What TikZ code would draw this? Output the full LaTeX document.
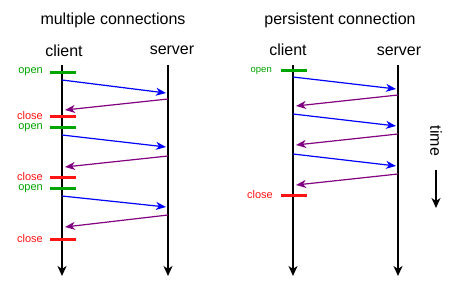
\documentclass[tikz,border=0pt]{standalone}
\usepackage{fontspec}
\setmainfont{Liberation Sans}
\usetikzlibrary{arrows.meta}
\definecolor{okgreen}{RGB}{0,165,0}
\definecolor{stopred}{RGB}{255,20,20}
\definecolor{reqblue}{RGB}{0,0,255}
\definecolor{resppurple}{RGB}{128,0,128}
\begin{document}
\begin{tikzpicture}[x=1pt,y=-1pt,
  every node/.style={font=\fontsize{16}{18}\selectfont,inner sep=0pt},
  life/.style={line width=1.6pt,-{Stealth[length=10pt,width=9pt,inset=3pt]}},
  req/.style={reqblue,line width=1.2pt,-{Stealth[length=10pt,width=8pt,inset=3pt]}},
  resp/.style={resppurple,line width=1.2pt,-{Stealth[length=10pt,width=8pt,inset=3pt]}},
  open tick/.style={okgreen,line width=3pt},
  close tick/.style={stopred,line width=3pt},
  open text/.style={okgreen,font=\fontsize{11}{11}\selectfont},
  close text/.style={stopred,font=\fontsize{11}{11}\selectfont}
]
\useasboundingbox (0,0) rectangle (456,286);

% multiple connections
\node[anchor=base] (title1) at (113,25) {multiple connections};
\node[anchor=base] (client1) at (64,57) {client};
\node[anchor=base] (server1) at (172,55) {server};
\coordinate (c1t) at (62,65);
\coordinate (c1b) at (62,276);
\coordinate (s1t) at (168,65);
\coordinate (s1b) at (168,276);
\draw[life] (c1t) -- (c1b);
\draw[life] (s1t) -- (s1b);
\foreach \y/\b/\k [count=\i] in {73/74/open,117/119.5/close,128/129.5/open,178/180.5/close,189/190.5/open,240/242.5/close}{
  \node[\k\space text,anchor=base east] (lt\i) at (43,\b) {\k};
  \coordinate (la\i) at (50,\y);
  \coordinate (lb\i) at (76,\y);
  \draw[\k\space tick] (la\i) -- (lb\i);
}
\foreach \ya/\yb/\yc/\yd [count=\i] in {80/93/99/110,135/147/156/167,196/207/215/227}{
  \coordinate (q\i) at (62,\ya);
  \coordinate (qe\i) at (166,\yb);
  \draw[req] (q\i) -- (qe\i);
  \coordinate (p\i) at (168,\yc);
  \coordinate (pe\i) at (65,\yd);
  \draw[resp] (p\i) -- (pe\i);
}

% persistent connection
\node[anchor=base] (title2) at (340,25) {persistent connection};
\node[anchor=base] (client2) at (288,56) {client};
\node[anchor=base] (server2) at (399,56) {server};
\coordinate (c2t) at (293,65);
\coordinate (c2b) at (293,276);
\coordinate (s2t) at (398,65);
\coordinate (s2b) at (398,276);
\draw[life] (c2t) -- (c2b);
\draw[life] (s2t) -- (s2b);
\node[open text,font=\fontsize{9.5}{10}\selectfont,anchor=base east] (rt1) at (272,73) {open};
\coordinate (ra1) at (281,71);
\coordinate (rb1) at (307,71);
\draw[open tick] (ra1) -- (rb1);
\node[close text,anchor=base east] (rt2) at (273,199) {close};
\coordinate (ra2) at (281,196);
\coordinate (rb2) at (307,196);
\draw[close tick] (ra2) -- (rb2);
\foreach \ya/\yb/\yc/\yd [count=\i] in {77/89/95/106,114/126/134/145,154/166/174/185}{
  \coordinate (r\i) at (293,\ya);
  \coordinate (re\i) at (396,\yb);
  \draw[req] (r\i) -- (re\i);
  \coordinate (a\i) at (398,\yc);
  \coordinate (ae\i) at (296,\yd);
  \draw[resp] (a\i) -- (ae\i);
}

% time
\node[rotate=-90] (time) at (436,141) {time};
\coordinate (t0) at (436,170);
\coordinate (t1) at (436,208);
\draw[line width=1.4pt,-{Stealth[length=10pt,width=9pt,inset=3pt]}] (t0) -- (t1);
\end{tikzpicture}
\end{document}
